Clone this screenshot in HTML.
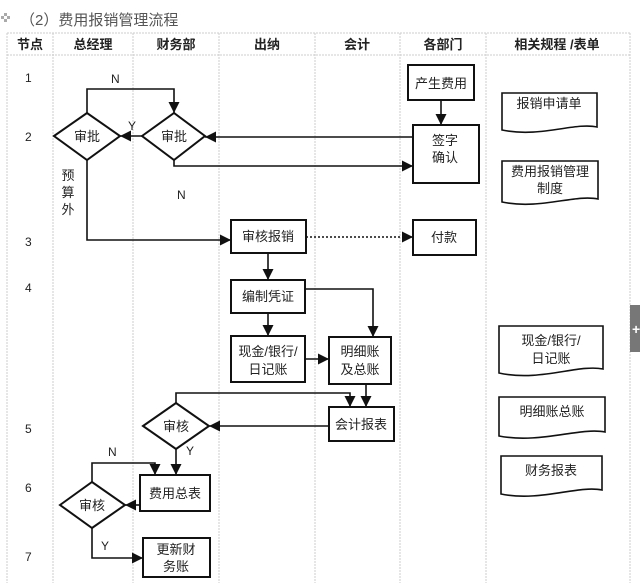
<!DOCTYPE html>
<html><head><meta charset="utf-8"><style>
html,body{margin:0;padding:0;background:#fff;width:640px;height:583px;overflow:hidden}
svg{display:block}
text{font-family:"Liberation Sans","Noto Sans CJK SC",sans-serif;fill:#222}
.c{text-anchor:middle}
</style></head><body>
<svg width="640" height="583" viewBox="0 0 640 583" xmlns="http://www.w3.org/2000/svg">
<defs><marker id="a" viewBox="0 0 10 10" refX="10" refY="5" markerWidth="7" markerHeight="7" orient="auto"><path d="M0,0L10,5L0,10z" fill="#111"/></marker></defs>
<!-- title -->
<g fill="#aaa"><rect x="1" y="16" width="3" height="3"/><rect x="4" y="13" width="3" height="3"/><rect x="4" y="19" width="3" height="3"/><rect x="7" y="16" width="3" height="3"/></g>
<text x="20" y="25" font-size="15" fill="#555" style="fill:#555">（2）费用报销管理流程</text>
<!-- grid -->
<g stroke="#ccc" stroke-width="1" fill="none" stroke-dasharray="2,1">
<line x1="7" y1="33" x2="630" y2="33"/><line x1="7" y1="55" x2="630" y2="55"/>
<line x1="7" y1="33" x2="7" y2="583"/><line x1="53" y1="33" x2="53" y2="583"/><line x1="133" y1="33" x2="133" y2="583"/><line x1="219" y1="33" x2="219" y2="583"/><line x1="315" y1="33" x2="315" y2="583"/><line x1="400" y1="33" x2="400" y2="583"/><line x1="486" y1="33" x2="486" y2="583"/><line x1="630" y1="33" x2="630" y2="583"/>
</g>
<g font-size="13" font-weight="bold" class="c">
<text x="30" y="49" class="c">节点</text><text x="93" y="49" class="c">总经理</text><text x="176" y="49" class="c">财务部</text><text x="267" y="49" class="c">出纳</text><text x="357" y="49" class="c">会计</text><text x="443" y="49" class="c">各部门</text><text x="557" y="49" class="c">相关规程 /表单</text>
</g>
<g font-size="12" font-family="Liberation Serif" style="font-family:'Liberation Serif',serif">
<text x="25" y="82">1</text><text x="25" y="141">2</text><text x="25" y="246">3</text><text x="25" y="292">4</text><text x="25" y="433">5</text><text x="25" y="492">6</text><text x="25" y="561">7</text>
<text x="111" y="83">N</text><text x="128" y="130">Y</text><text x="177" y="199">N</text><text x="186" y="455">Y</text><text x="108" y="456">N</text><text x="101" y="550">Y</text>
</g>
<!-- shapes -->
<g stroke="#111" stroke-width="2" fill="#fff">
<rect x="408" y="65" width="66" height="35"/>
<rect x="413" y="125" width="66" height="58"/>
<polygon points="54,136 87,113 120,136 87,160"/>
<polygon points="142,136 174,113 205,136 174,160"/>
<rect x="231" y="220" width="75" height="33"/>
<rect x="413" y="220" width="63" height="35"/>
<rect x="231" y="280" width="74" height="33"/>
<rect x="231" y="336" width="74" height="46"/>
<rect x="329" y="337" width="62" height="47"/>
<rect x="329" y="407" width="65" height="34"/>
<polygon points="143,426 176,403 209,426 176,449"/>
<rect x="140" y="475" width="70" height="36"/>
<polygon points="60,505 92,482 125,505 92,528"/>
<rect x="143" y="538" width="67" height="39"/>
</g>
<g stroke="#111" stroke-width="1.6" fill="#fff">
<path d="M502,93H597V127C575,122 540,138 502,130Z"/>
<path d="M502,161H598V199C575,194 540,210 502,202Z"/>
<path d="M499,326H603V369C578,364 540,382 499,373Z"/>
<path d="M499,397H605V432C580,427 540,444 499,436Z"/>
<path d="M501,456H602V490C578,485 540,502 501,494Z"/>
</g>
<!-- connectors -->
<g stroke="#111" stroke-width="1.6" fill="none" marker-end="url(#a)">
<line x1="441" y1="100" x2="441" y2="125"/>
<line x1="413" y1="137" x2="205" y2="137"/>
<polyline points="174,160 174,166 413,166"/>
<polyline points="87,113 87,89 174,89 174,113"/>
<line x1="142" y1="136" x2="120" y2="136"/>
<polyline points="87,160 87,240 231,240"/>
<line x1="268" y1="253" x2="268" y2="280"/>
<line x1="268" y1="313" x2="268" y2="336"/>
<polyline points="305,289 373,289 373,337"/>
<line x1="305" y1="359" x2="329" y2="359"/>
<line x1="366" y1="384" x2="366" y2="407"/>
<polyline points="176,403 176,393 350,393 350,407"/>
<line x1="329" y1="426" x2="209" y2="426"/>
<line x1="176" y1="449" x2="176" y2="475"/>
<line x1="140" y1="505" x2="125" y2="505"/>
<polyline points="92,482 92,463 155,463 155,475"/>
<polyline points="92,528 92,558 143,558"/>
<line x1="306" y1="237" x2="413" y2="237" stroke-dasharray="2,2"/>
</g>
<!-- labels -->
<g font-size="13">
<text x="441" y="88" class="c">产生费用</text>
<text x="445" y="145" class="c">签字</text><text x="445" y="162" class="c">确认</text>
<text x="87" y="141" class="c">审批</text><text x="174" y="141" class="c">审批</text>
<text x="68" y="180" class="c">预</text><text x="68" y="197" class="c">算</text><text x="68" y="214" class="c">外</text>
<text x="268" y="241" class="c">审核报销</text>
<text x="444" y="242" class="c">付款</text>
<text x="268" y="301" class="c">编制凭证</text>
<text x="268" y="356" class="c">现金/银行/</text><text x="268" y="374" class="c">日记账</text>
<text x="360" y="356" class="c">明细账</text><text x="360" y="374" class="c">及总账</text>
<text x="361" y="429" class="c">会计报表</text>
<text x="176" y="431" class="c">审核</text>
<text x="175" y="498" class="c">费用总表</text>
<text x="92" y="510" class="c">审核</text>
<text x="176" y="554" class="c">更新财</text><text x="176" y="571" class="c">务账</text>
<text x="549" y="108" class="c">报销申请单</text>
<text x="550" y="176" class="c">费用报销管理</text><text x="550" y="193" class="c">制度</text>
<text x="551" y="345" class="c">现金/银行/</text><text x="551" y="363" class="c">日记账</text>
<text x="552" y="416" class="c">明细账总账</text>
<text x="551" y="475" class="c">财务报表</text>
</g>
<rect x="630" y="305" width="10" height="47" fill="#777"/>
<text x="632" y="334" font-size="14" font-weight="bold" style="fill:#fff">+</text>
</svg>
</body></html>
